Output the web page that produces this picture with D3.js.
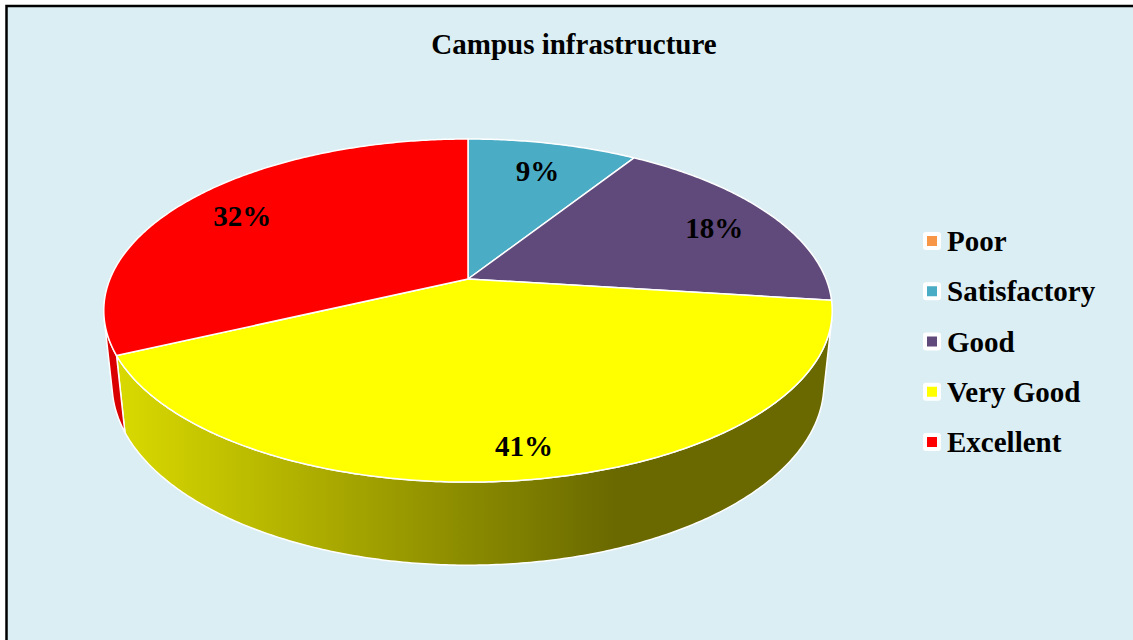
<!DOCTYPE html>
<html>
<head>
<meta charset="utf-8">
<script src="https://cdn.jsdelivr.net/npm/d3@7"></script>
<style>
  body { margin: 0; background: #fff; }
  svg { display: block; font-family: "Liberation Serif", "Times New Roman", serif; }
</style>
</head>
<body>
<div id="chart-area"></div>
<script>
const categories = ["Poor", "Satisfactory", "Good", "Very Good", "Excellent"];
const values = [0, 9, 18, 41, 32];
const colors = ["#f79646", "#4bacc6", "#604a7b", "#ffff00", "#ff0000"];
const title = "Campus infrastructure";

const svgWidth = 1133;
const svgHeight = 640;

const svg = d3.select("#chart-area")
  .append("svg")
  .attr("width", svgWidth)
  .attr("height", svgHeight);

// frame
svg.append("rect")
  .attr("x", 6.5).attr("y", 6)
  .attr("width", svgWidth + 20).attr("height", svgHeight + 20)
  .attr("fill", "#dbeef3")
  .attr("stroke", "#000")
  .attr("stroke-width", 2.5);

svg.append("text")
  .attr("x", 574)
  .attr("y", 54)
  .attr("text-anchor", "middle")
  .attr("font-weight", "bold")
  .attr("font-size", 29)
  .text(title);

// perspective projection of a flat cylinder
const cx = 468, cy = 279, k = 358;
const sp = 0.463, cp = Math.sqrt(1 - sp * sp);
const D = 4.82, depth = 0.234;

function proj(X, Y, Z) {
  const t = Y * sp + Z * cp;
  const u = Y * cp - Z * sp;
  const s = D / (D - t);
  return [cx + k * X * s, cy - k * u * s];
}
const pt = (a, r, Y) => proj(r * Math.sin(a), Y, -r * Math.cos(a));

const pie = d3.pie().sort(null).value(d => d)(values);
const line = d3.line();
const steps = a => Math.max(2, Math.ceil(a / 0.01));

// wall faces the camera when -cos a > 1/(D*cp)
const lim = Math.acos(1 / (D * cp));
const lo = Math.PI - lim, hi = Math.PI + lim;

const defs = svg.append("defs");
const shade = d3.scaleLinear().domain([110, 615]).range([0.86, 0.41]).clamp(true);

pie.forEach((d, i) => {
  const base = d3.rgb(colors[i]);
  const g = defs.append("linearGradient")
    .attr("id", "wall" + i)
    .attr("gradientUnits", "userSpaceOnUse")
    .attr("x1", 110).attr("x2", 615).attr("y1", 0).attr("y2", 0);
  [110, 360, 615].forEach((x, j) => {
    const f = shade(x);
    g.append("stop")
      .attr("offset", j / 2)
      .attr("stop-color", d3.rgb(base.r * f, base.g * f, base.b * f));
  });
});

const walls = svg.append("g");
pie.forEach((d, i) => {
  const a0 = Math.max(d.startAngle, lo), a1 = Math.min(d.endAngle, hi);
  if (a1 <= a0) return;
  const n = steps(a1 - a0);
  const top = d3.range(n + 1).map(j => pt(a0 + (a1 - a0) * j / n, 1, 0));
  const bot = d3.range(n + 1).map(j => pt(a1 - (a1 - a0) * j / n, 1, -depth));
  walls.append("path")
    .attr("d", line(top.concat(bot)) + "Z")
    .attr("fill", `url(#wall${i})`)
    .attr("stroke", "#fff")
    .attr("stroke-width", 1.5)
    .attr("stroke-linejoin", "round");
});

const tops = svg.append("g");
pie.forEach((d, i) => {
  if (d.endAngle - d.startAngle <= 0) return;
  const n = steps(d.endAngle - d.startAngle);
  const arc = d3.range(n + 1).map(j => pt(d.startAngle + (d.endAngle - d.startAngle) * j / n, 1, 0));
  tops.append("path")
    .attr("d", line([proj(0, 0, 0)].concat(arc)) + "Z")
    .attr("fill", colors[i])
    .attr("stroke", "#fff")
    .attr("stroke-width", 1.5)
    .attr("stroke-linejoin", "round");
});

// labels sit 82% of the way from the apex to the rim, in screen space
const apex = proj(0, 0, 0);
const labels = svg.append("g")
  .attr("font-weight", "bold")
  .attr("font-size", 29)
  .attr("text-anchor", "middle");
pie.forEach(d => {
  if (d.value <= 0) return;
  const rim = pt((d.startAngle + d.endAngle) / 2, 1, 0);
  const f = 0.82;
  labels.append("text")
    .attr("x", apex[0] + f * (rim[0] - apex[0]))
    .attr("y", apex[1] + f * (rim[1] - apex[1]))
    .attr("dy", "0.45em")
    .text(d.value + "%");
});

// legend
const ly = d3.scalePoint().domain(categories).range([241, 442]);
const legend = svg.append("g").selectAll("g")
  .data(categories)
  .enter()
  .append("g")
  .attr("transform", d => `translate(932, ${ly(d)})`);
legend.append("rect")
  .attr("x", -9).attr("y", -9).attr("width", 18).attr("height", 18)
  .attr("rx", 3).attr("fill", "#fff");
legend.append("rect")
  .attr("x", -5).attr("y", -5).attr("width", 10).attr("height", 10)
  .attr("fill", (d, i) => colors[i]);
legend.append("text")
  .attr("x", 15)
  .attr("dy", "0.35em")
  .attr("font-weight", "bold")
  .attr("font-size", 29)
  .text(d => d);
</script>
</body>
</html>
